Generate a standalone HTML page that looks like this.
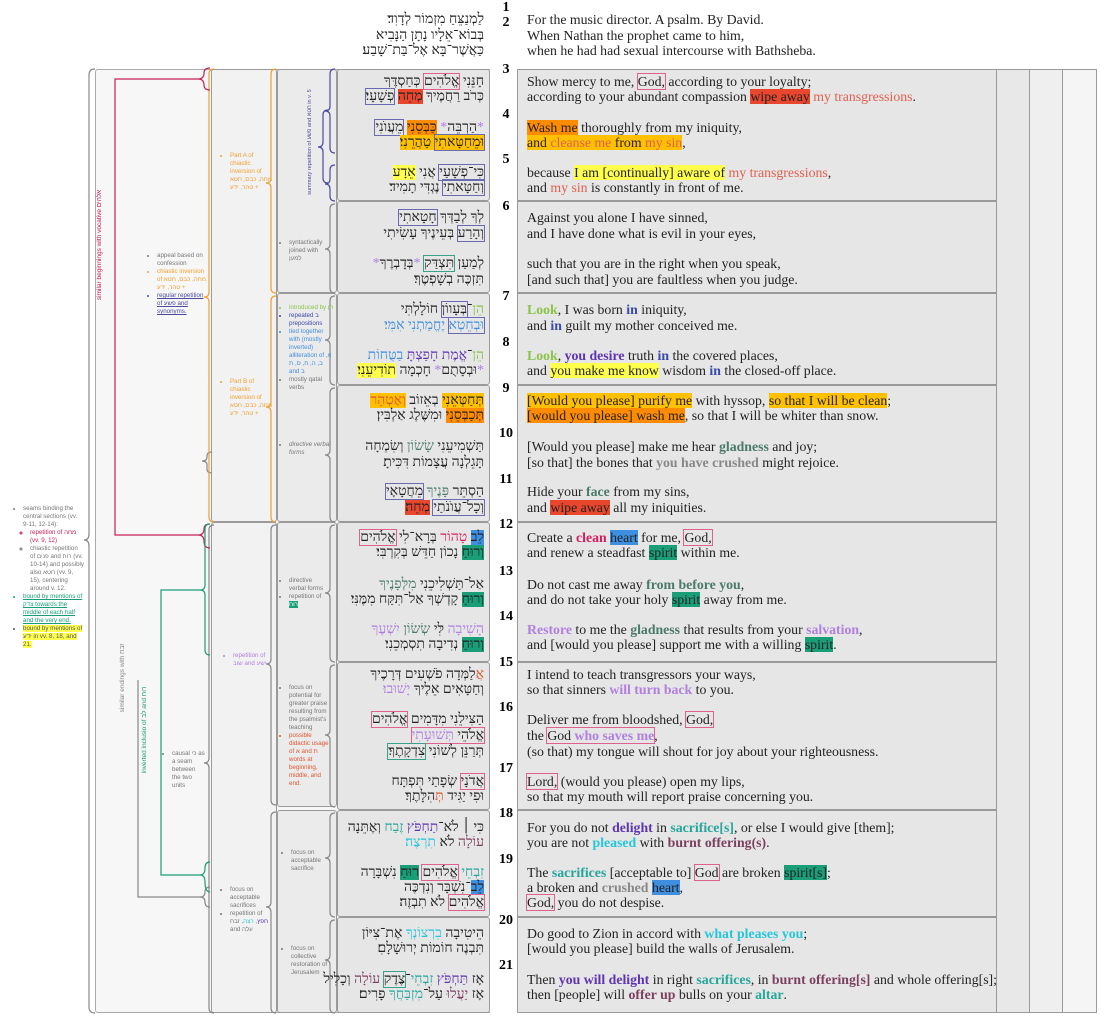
<!DOCTYPE html>
<html><head><meta charset="utf-8">
<style>
body{margin:0;width:1110px;height:1027px;background:#fff;position:relative;overflow:hidden;font-family:"Liberation Serif",serif;}
.b{position:absolute;box-sizing:border-box;border:1px solid #9a9a9a;border-radius:3px;}
.e{position:absolute;left:527px;font-size:13.8px;line-height:16px;white-space:nowrap;color:#222;}
.h{position:absolute;right:626px;font-size:14px;line-height:16px;white-space:nowrap;direction:rtl;color:#222;font-family:"Liberation Serif","DejaVu Serif",serif;}
.n{position:absolute;left:500px;font-weight:bold;font-size:14px;line-height:16px;width:12px;text-align:center;}
.s{position:absolute;font-family:"Liberation Sans","DejaVu Sans",sans-serif;font-size:6.2px;line-height:8px;color:#777;}
.s li{margin:0;padding:0}
.s ul{margin:0;padding-left:7px}
.R{background:#e8472e}.O{background:#ff8c00}.G{background:#ffc000}.Y{background:#ffff4d}.BL{background:#3f8fe0}.T{background:#1a9e78}
.rt{color:#e06050}.gr{color:#8bc34a;font-weight:bold}.bi{color:#3949ab;font-weight:bold}.pu{color:#5e35b1;font-weight:bold}
.gl{color:#4a7a6a;font-weight:bold}.pk{color:#d81b60;font-weight:bold}.lv{color:#b07fe0;font-weight:bold}.tl{color:#26a69a;font-weight:bold}
.cy{color:#26c6da;font-weight:bold}.bo{color:#7b3f5f;font-weight:bold}.gy{color:#888;font-weight:bold}
.bx{outline:1px solid #e06090;outline-offset:0}.bb{outline:1px solid #6a6ab0}.bt{outline:1px solid #3aa08a}
</style></head><body>

<div class="b" style="left:95px;top:69px;width:1002px;height:944px;background:#f7f7f7;border-color:#aaa"></div>
<div style="position:absolute;left:490px;top:60px;width:27px;height:960px;background:#fff"></div>
<div class="b" style="left:211px;top:69px;width:66px;height:453px;background:#f2f2f2"></div>
<div class="b" style="left:211px;top:522px;width:66px;height:491px;background:#f2f2f2"></div>
<div class="b" style="left:277px;top:69px;width:60px;height:224px;background:#ebebeb"></div>
<div class="b" style="left:277px;top:293px;width:60px;height:229px;background:#ebebeb"></div>
<div class="b" style="left:277px;top:522px;width:60px;height:285px;background:#ebebeb"></div>
<div class="b" style="left:277px;top:810px;width:60px;height:203px;background:#ebebeb"></div>
<div class="b" style="left:996px;top:69px;width:34px;height:944px;background:#e8e8e8;border-radius:0"></div>
<div class="b" style="left:1029px;top:69px;width:34px;height:944px;background:#efefef;border-radius:0"></div>
<div class="b" style="left:1062px;top:69px;width:35px;height:944px;background:#f5f5f5;border-radius:0"></div>

<div class="b" style="left:337px;top:69px;width:153px;height:132px;background:#e6e6e6"></div>
<div class="b" style="left:337px;top:201px;width:153px;height:92px;background:#e6e6e6"></div>
<div class="b" style="left:337px;top:293px;width:153px;height:92px;background:#e6e6e6"></div>
<div class="b" style="left:337px;top:385px;width:153px;height:137px;background:#e6e6e6"></div>
<div class="b" style="left:337px;top:522px;width:153px;height:140px;background:#e6e6e6"></div>
<div class="b" style="left:337px;top:662px;width:153px;height:148px;background:#e6e6e6"></div>
<div class="b" style="left:337px;top:810px;width:153px;height:107px;background:#e6e6e6"></div>
<div class="b" style="left:337px;top:917px;width:153px;height:96px;background:#e6e6e6"></div>

<div class="b" style="left:517px;top:69px;width:480px;height:132px;background:#e6e6e6;border-radius:0"></div>
<div class="b" style="left:517px;top:201px;width:480px;height:92px;background:#e6e6e6;border-radius:0"></div>
<div class="b" style="left:517px;top:293px;width:480px;height:92px;background:#e6e6e6;border-radius:0"></div>
<div class="b" style="left:517px;top:385px;width:480px;height:137px;background:#e6e6e6;border-radius:0"></div>
<div class="b" style="left:517px;top:522px;width:480px;height:140px;background:#e6e6e6;border-radius:0"></div>
<div class="b" style="left:517px;top:662px;width:480px;height:148px;background:#e6e6e6;border-radius:0"></div>
<div class="b" style="left:517px;top:810px;width:480px;height:107px;background:#e6e6e6;border-radius:0"></div>
<div class="b" style="left:517px;top:917px;width:480px;height:96px;background:#e6e6e6;border-radius:0"></div>

<svg width="1110" height="1027" style="position:absolute;left:0;top:0" fill="none" stroke-width="1.2">
<path stroke="#888" d="M95 69 Q89 69 89 75 L89 534 Q89 540 84 540 Q89 540 89 546 L89 1007 Q89 1013 95 1013"/>
<g stroke="#4a4aa0">
<path d="M335 69 Q330 69 330 74 L330 106 Q330 111 325 111 Q330 111 330 116 L330 148 Q330 153 335 153"/>
<path d="M335 165 Q330 165 330 170 L330 179 Q330 184 325 184 Q330 184 330 189 L330 196 Q330 201 335 201"/>
<path d="M328 110 Q323 110 323 115 L323 142 Q323 147 318 147 Q323 147 323 152 L323 178 Q323 183 328 183"/>
</g>
<g stroke="#888">
<path d="M335 204 Q330 204 330 209 L330 244 Q330 249 325 249 Q330 249 330 254 L330 288 Q330 293 335 293"/>
<path d="M335 296 Q330 296 330 301 L330 335 Q330 340 325 340 Q330 340 330 345 L330 380 Q330 385 335 385"/>
<path d="M335 388 Q330 388 330 393 L330 450 Q330 455 325 455 Q330 455 330 460 L330 517 Q330 522 335 522"/>
<path d="M335 525 Q330 525 330 530 L330 588 Q330 593 325 593 Q330 593 330 598 L330 657 Q330 662 335 662"/>
<path d="M335 665 Q330 665 330 670 L330 730 Q330 735 325 735 Q330 735 330 740 L330 802 Q330 807 335 807"/>
<path d="M335 813 Q330 813 330 818 L330 853 Q330 858 325 858 Q330 858 330 863 L330 912 Q330 917 335 917"/>
<path d="M335 920 Q330 920 330 925 L330 955 Q330 960 325 960 Q330 960 330 965 L330 1008 Q330 1013 335 1013"/>
<path d="M276 525 Q271 525 271 530 L271 659 Q271 664 266 664 Q271 664 271 669 L271 800 Q271 805 276 805"/>
<path d="M276 812 Q271 812 271 817 L271 902 Q271 907 266 907 Q271 907 271 912 L271 1008 Q271 1013 276 1013"/>
<path d="M214 525 Q209 525 209 530 L209 758 Q209 763 204 763 Q209 763 209 768 L209 1008 Q209 1013 214 1013"/>
<path d="M212 452 Q207 452 207 456 L207 457 Q207 461 202 461 Q207 461 207 465 L207 469 Q207 473 212 473"/>
<path d="M138 680 L138 897 L200 897"/>
<path d="M210 887 Q205 887 205 892 Q205 897 200 897 Q205 897 205 902 Q205 907 210 907"/>
</g>
<g stroke="#f0a030">
<path d="M276 69 Q271 69 271 74 L271 178 Q271 183 266 183 Q271 183 271 188 L271 288 Q271 293 276 293"/>
<path d="M276 296 Q271 296 271 301 L271 402 Q271 407 266 407 Q271 407 271 412 L271 517 Q271 522 276 522"/>
<path d="M214 69 Q209 69 209 74 L209 292 Q209 297 204 297 Q209 297 209 302 L209 517 Q209 522 214 522"/>
</g>
<g stroke="#c8205a">
<path d="M210 68 Q204 68 204 73 Q204 79 198 79 Q204 79 204 85 Q204 90 210 90"/>
<path d="M198 79 L115 79 L115 535 L198 535"/>
<path d="M210 524 Q204 524 204 529 Q204 535 198 535 Q204 535 204 541 Q204 548 210 548"/>
</g>
<g stroke="#1a9e78">
<path d="M210 524 Q205 524 205 529 L205 585 Q205 590 200 590 Q205 590 205 595 L205 650 Q205 655 210 655"/>
<path d="M200 590 L161 590 L161 875 L200 875"/>
<path d="M210 862 Q205 862 205 868 Q205 875 200 875 Q205 875 205 882 Q205 892 210 892"/>
</g>
<text transform="translate(101,245) rotate(-90)" text-anchor="middle" font-family="Liberation Sans,DejaVu Sans,sans-serif" font-size="6.5" fill="#c8205a" stroke="none">similar beginnings with vocative אלהים</text>
<text transform="translate(124,678) rotate(-90)" text-anchor="middle" font-family="Liberation Sans,DejaVu Sans,sans-serif" font-size="6.5" fill="#888" stroke="none">similar endings with זבח</text>
<text transform="translate(146,730) rotate(-90)" text-anchor="middle" font-family="Liberation Sans,DejaVu Sans,sans-serif" font-size="6.5" fill="#1a9e78" stroke="none">inverted inclusio of לב and רוח</text>
<text transform="translate(311,142) rotate(-90)" text-anchor="middle" font-family="Liberation Sans,DejaVu Sans,sans-serif" font-size="5.6" fill="#4a4aa0" stroke="none">summary repetition of פשע and חטא in v. 5</text>
</svg>

<div class="s" style="left:150px;top:252px;width:58px"><ul><li>appeal based on confession</li><li style="color:#f0a030">chiastic inversion of מחה, כבס, חטא + טהר, ידע</li><li style="color:#4a4aa0;text-decoration:underline">regular repetition of פשע and synonyms.</li></ul></div>
<div class="s" style="left:223px;top:152px;width:50px;color:#f0a030"><ul><li>Part A of chiastic inversion of מחה, כבס, חטא + טהר, ידע</li></ul></div>
<div class="s" style="left:223px;top:378px;width:50px;color:#f0a030"><ul><li>Part B of chiastic inversion of מחה, כבס, חטא + טהר, ידע</li></ul></div>
<div class="s" style="left:282px;top:239px;width:48px"><ul><li>syntactically joined with למען</li></ul></div>
<div class="s" style="left:282px;top:304px;width:52px"><ul><li style="color:#8bc34a">introduced by הן</li><li style="color:#3949ab">repeated ב prepositions</li><li style="color:#3f8fe0">tied together with (mostly inverted) alliteration of א, ב, ה, ח, ס, ת and ב</li><li>mostly qatal verbs</li></ul></div>
<div class="s" style="left:282px;top:441px;width:52px"><ul><li style="font-style:italic">directive verbal forms</li></ul></div>
<div class="s" style="left:282px;top:577px;width:46px"><ul><li>directive verbal forms</li><li>repetition of <span class="T" style="color:#fff">רוח</span></li></ul></div>
<div class="s" style="left:282px;top:684px;width:50px"><ul><li>focus on potential for greater praise resulting from the psalmist's teaching</li><li style="color:#e0552e">possible didactic usage of א and ת words at beginning, middle, and end.</li></ul></div>
<div class="s" style="left:284px;top:849px;width:46px"><ul><li>focus on acceptable sacrifice</li></ul></div>
<div class="s" style="left:284px;top:945px;width:46px"><ul><li>focus on collective restoration of Jerusalem</li></ul></div>
<div class="s" style="left:226px;top:652px;width:42px;color:#b07fe0"><ul><li>repetition of שוב and ישע</li></ul></div>
<div class="s" style="left:223px;top:886px;width:50px"><ul><li>focus on acceptable sacrifices</li><li>repetition of <span style="color:#5e35b1">חפץ</span>, <span style="color:#26c6da">רצה</span>, זבח and עלה</li></ul></div>
<div class="s" style="left:165px;top:750px;width:40px"><ul><li>causal כי as a seam between the two units</li></ul></div>
<div class="s" style="left:16px;top:505px;width:68px"><ul><li>seams binding the central sections (vv. 9-11, 12-14):<ul><li style="color:#c8205a">repetition of מחה (vv. 9, 12)</li><li>chiastic repetition of פנים and רוח (vv. 10-14) and possibly also חטא (vv. 9, 15), centering around v. 12.</li></ul></li><li style="color:#1a9e78;text-decoration:underline">bound by mentions of צדק towards the middle of each half and the very end.</li><li style="color:#555"><span class="Y">bound by mentions of ידע in vv. 8, 18, and 21.</span></li></ul></div>

<div class="n" style="top:0">1</div>
<div class="n" style="top:15px">2</div>
<div class="h" style="top:12px">לַמְנַצֵּחַ מִזְמוֹר לְדָוִד׃</div>
<div class="h" style="top:28px">בְּבוֹא־אֵלָיו נָתָן הַנָּבִיא</div>
<div class="h" style="top:43px">כַּאֲשֶׁר־בָּא אֶל־בַּת־שָׁבַע׃</div>
<div class="e" style="top:12px">For the music director. A psalm. By David.</div>
<div class="e" style="top:28px">When Nathan the prophet came to him,</div>
<div class="e" style="top:43px">when he had had sexual intercourse with Bathsheba.</div>

<div class="n" style="top:62px">3</div><div class="n" style="top:107px">4</div><div class="n" style="top:152px">5</div>
<div class="n" style="top:199px">6</div><div class="n" style="top:289px">7</div><div class="n" style="top:335px">8</div>
<div class="n" style="top:381px">9</div><div class="n" style="top:426px;left:497px;width:18px">10</div><div class="n" style="top:472px;left:497px;width:18px">11</div>
<div class="n" style="top:517px;left:497px;width:18px">12</div><div class="n" style="top:564px;left:497px;width:18px">13</div><div class="n" style="top:609px;left:497px;width:18px">14</div>
<div class="n" style="top:655px;left:497px;width:18px">15</div><div class="n" style="top:700px;left:497px;width:18px">16</div><div class="n" style="top:761px;left:497px;width:18px">17</div>
<div class="n" style="top:806px;left:497px;width:18px">18</div><div class="n" style="top:852px;left:497px;width:18px">19</div><div class="n" style="top:913px;left:497px;width:18px">20</div>
<div class="n" style="top:958px;left:497px;width:18px">21</div>

<div class="h" style="top:74px">חָנֵּנִי <span class="bx">אֱלֹהִים</span> כְּחַסְדֶּךָ</div>
<div class="h" style="top:89px">כְּרֹב רַחֲמֶיךָ <span class="R">מְחֵה</span> <span class="bb">פְשָׁעָי׃</span></div>
<div class="h" style="top:120px"><span style="color:#b07fe0">*</span>הַרְבֵּה<span style="color:#b07fe0">*</span> <span class="O">כַּבְּסֵנִי</span> <span class="bb">מֵעֲוֺנִי</span></div>
<div class="h" style="top:135px"><span class="G"><span class="bb">וּמֵחַטָּאתִי</span> טַהֲרֵנִי׃</span></div>
<div class="h" style="top:165px"><span class="bb">כִּי־פְשָׁעַי</span> אֲנִי <span class="Y">אֵדָע</span></div>
<div class="h" style="top:180px"><span class="bb">וְחַטָּאתִי</span> נֶגְדִּי תָמִיד׃</div>
<div class="h" style="top:210px">לְךָ לְבַדְּךָ <span class="bb">חָטָאתִי</span></div>
<div class="h" style="top:226px"><span class="bb">וְהָרַע</span> בְּעֵינֶיךָ עָשִׂיתִי</div>
<div class="h" style="top:256px">לְמַעַן <span class="bt">תִּצְדַּק</span> <span style="color:#b07fe0">*</span>בְּדָבְרֶךָ<span style="color:#b07fe0">*</span></div>
<div class="h" style="top:272px">תִּזְכֶּה בְשָׁפְטֶךָ׃</div>
<div class="h" style="top:302px"><span style="color:#8bc34a">הֵן</span>־<span class="bb">בְּעָווֹן</span> חוֹלָלְתִּי</div>
<div class="h" style="top:318px;color:#3f8fe0"><span class="bb">וּבְחֵטְא</span> יֶחֱמַתְנִי אִמִּי׃</div>
<div class="h" style="top:348px"><span style="color:#8bc34a">הֵן</span>־<span style="color:#5e35b1">אֱמֶת חָפַצְתָּ</span> <span style="color:#3f8fe0">בַטֻּחוֹת</span></div>
<div class="h" style="top:363px"><span style="color:#b07fe0">*</span>וּבְסָתֻם<span style="color:#b07fe0">*</span> חָכְמָה <span class="Y">תוֹדִיעֵנִי׃</span></div>
<div class="h" style="top:393px"><span class="G">תְּחַטְּאֵנִי</span> בְאֵזוֹב <span class="G" style="color:#e0552e">וְאֶטְהָר</span></div>
<div class="h" style="top:408px"><span class="O">תְּכַבְּסֵנִי</span> וּמִשֶּׁלֶג אַלְבִּין׃</div>
<div class="h" style="top:439px">תַּשְׁמִיעֵנִי <span style="color:#4a7a6a">שָׂשׂוֹן</span> וְשִׂמְחָה</div>
<div class="h" style="top:455px">תָּגֵלְנָה עֲצָמוֹת דִּכִּיתָ׃</div>
<div class="h" style="top:484px">הַסְתֵּר <span style="color:#4a7a6a">פָּנֶיךָ</span> <span class="bb">מֵחֲטָאָי</span></div>
<div class="h" style="top:500px"><span class="bb">וְכָל־עֲוֺנֹתַי</span> <span class="R">מְחֵה׃</span></div>
<div class="h" style="top:530px"><span class="BL">לֵב</span> <span style="color:#d81b60">טָהוֹר</span> בְּרָא־לִי <span class="bx">אֱלֹהִים</span></div>
<div class="h" style="top:545px"><span class="T">וְרוּחַ</span> נָכוֹן חַדֵּשׁ בְּקִרְבִּי׃</div>
<div class="h" style="top:577px">אַל־תַּשְׁלִיכֵנִי <span style="color:#4a7a6a">מִלְּפָנֶיךָ</span></div>
<div class="h" style="top:592px"><span class="T">וְרוּחַ</span> קָדְשְׁךָ אַל־תִּקַּח מִמֶּנִּי׃</div>
<div class="h" style="top:622px"><span style="color:#b07fe0">הָשִׁיבָה</span> לִּי <span style="color:#4a7a6a">שְׂשׂוֹן</span> <span style="color:#b07fe0">יִשְׁעֶךָ</span></div>
<div class="h" style="top:637px"><span class="T">וְרוּחַ</span> נְדִיבָה תִסְמְכֵנִי׃</div>
<div class="h" style="top:667px"><span style="color:#e0552e">אֲ</span>לַמְּדָה פֹשְׁעִים דְּרָכֶיךָ</div>
<div class="h" style="top:682px">וְחַטָּאִים אֵלֶיךָ <span style="color:#b07fe0">יָשׁוּבוּ׃</span></div>
<div class="h" style="top:712px">הַצִּילֵנִי מִדָּמִים <span class="bx">אֱלֹהִים</span></div>
<div class="h" style="top:728px"><span class="bx">אֱלֹהֵי <span style="color:#b07fe0">תְּשׁוּעָתִי</span></span></div>
<div class="h" style="top:744px">תְּרַנֵּן לְשׁוֹנִי <span class="bt">צִדְקָתֶךָ׃</span></div>
<div class="h" style="top:774px"><span class="bx">אֲדֹנָי</span> שְׂפָתַי תִּפְתָּח</div>
<div class="h" style="top:789px">וּפִי יַגִּיד <span style="color:#e0552e">תְּ</span>הִלָּתֶךָ׃</div>
<div class="h" style="top:820px">כִּי ׀ לֹא־<span style="color:#5e35b1">תַחְפֹּץ</span> <span style="color:#26a69a">זֶבַח</span> וְאֶתֵּנָה</div>
<div class="h" style="top:835px"><span style="color:#7b3f5f">עוֹלָה</span> לֹא <span style="color:#26c6da">תִרְצֶה׃</span></div>
<div class="h" style="top:865px"><span style="color:#26a69a">זִבְחֵי</span> <span class="bx">אֱלֹהִים</span> <span class="T">רוּחַ</span> נִשְׁבָּרָה</div>
<div class="h" style="top:880px"><span class="BL">לֵב</span>־נִשְׁבָּר וְנִדְכֶּה</div>
<div class="h" style="top:895px"><span class="bx">אֱלֹהִים</span> לֹא תִבְזֶה׃</div>
<div class="h" style="top:926px">הֵיטִיבָה <span style="color:#26c6da">בִרְצוֹנְךָ</span> אֶת־צִיּוֹן</div>
<div class="h" style="top:941px">תִּבְנֶה חוֹמוֹת יְרוּשָׁלָםִ׃</div>
<div class="h" style="top:972px">אָז <span style="color:#5e35b1">תַּחְפֹּץ</span> <span style="color:#26a69a">זִבְחֵי</span>־<span class="bt">צֶדֶק</span> <span style="color:#7b3f5f">עוֹלָה</span> וְכָלִיל</div>
<div class="h" style="top:987px">אָז <span style="color:#7b3f5f">יַעֲלוּ</span> עַל־<span style="color:#26a69a">מִזְבַּחֲךָ</span> פָרִים׃</div>

<div class="e" style="top:74px">Show mercy to me, <span class="bx">God,</span> according to your loyalty;</div>
<div class="e" style="top:89px">according to your abundant compassion <span class="R">wipe away</span> <span class="rt">my transgressions</span>.</div>
<div class="e" style="top:120px"><span class="O">Wash me</span> thoroughly from my iniquity,</div>
<div class="e" style="top:135px"><span class="G">and <span class="rt">cleanse me</span> from <span class="rt">my sin</span></span>,</div>
<div class="e" style="top:165px">because <span class="Y">I am [continually] aware of</span> <span class="rt">my transgressions</span>,</div>
<div class="e" style="top:180px">and <span class="rt">my sin</span> is constantly in front of me.</div>
<div class="e" style="top:210px">Against you alone I have sinned,</div>
<div class="e" style="top:226px">and I have done what is evil in your eyes,</div>
<div class="e" style="top:256px">such that you are in the right when you speak,</div>
<div class="e" style="top:272px">[and such that] you are faultless when you judge.</div>
<div class="e" style="top:302px"><span class="gr">Look</span>, I was born <span class="bi">in</span> iniquity,</div>
<div class="e" style="top:318px">and <span class="bi">in</span> guilt my mother conceived me.</div>
<div class="e" style="top:348px"><span class="gr">Look</span>, <span class="pu">you desire</span> truth <span class="bi">in</span> the covered places,</div>
<div class="e" style="top:363px">and <span class="Y">you make me know</span> wisdom <span class="bi">in</span> the closed-off place.</div>
<div class="e" style="top:393px"><span class="G">[Would you please] purify me</span> with hyssop, <span class="G">so that I will be clean</span>;</div>
<div class="e" style="top:408px"><span class="O">[would you please] wash me</span>, so that I will be whiter than snow.</div>
<div class="e" style="top:439px">[Would you please] make me hear <span class="gl">gladness</span> and joy;</div>
<div class="e" style="top:455px">[so that] the bones that <span class="gy">you have crushed</span> might rejoice.</div>
<div class="e" style="top:484px">Hide your <span class="gl">face</span> from my sins,</div>
<div class="e" style="top:500px">and <span class="R">wipe away</span> all my iniquities.</div>
<div class="e" style="top:530px">Create a <span class="pk">clean</span> <span class="BL">heart</span> for me, <span class="bx">God,</span></div>
<div class="e" style="top:545px">and renew a steadfast <span class="T">spirit</span> within me.</div>
<div class="e" style="top:577px">Do not cast me away <span class="gl">from before you</span>,</div>
<div class="e" style="top:592px">and do not take your holy <span class="T">spirit</span> away from me.</div>
<div class="e" style="top:622px"><span class="lv">Restore</span> to me the <span class="gl">gladness</span> that results from your <span class="lv">salvation</span>,</div>
<div class="e" style="top:637px">and [would you please] support me with a willing <span class="T">spirit</span>.</div>
<div class="e" style="top:667px">I intend to teach transgressors your ways,</div>
<div class="e" style="top:682px">so that sinners <span class="lv">will turn back</span> to you.</div>
<div class="e" style="top:712px">Deliver me from bloodshed, <span class="bx">God,</span></div>
<div class="e" style="top:728px">the <span class="bx">God <span class="lv">who saves me</span></span>,</div>
<div class="e" style="top:744px">(so that) my tongue will shout for joy about your righteousness.</div>
<div class="e" style="top:774px"><span class="bx">Lord,</span> (would you please) open my lips,</div>
<div class="e" style="top:789px">so that my mouth will report praise concerning you.</div>
<div class="e" style="top:820px">For you do not <span class="pu">delight</span> in <span class="tl">sacrifice[s]</span>, or else I would give [them];</div>
<div class="e" style="top:835px">you are not <span class="cy">pleased</span> with <span class="bo">burnt offering(s)</span>.</div>
<div class="e" style="top:865px">The <span class="tl">sacrifices</span> [acceptable to] <span class="bx">God</span> are broken <span class="T">spirit[s]</span>;</div>
<div class="e" style="top:880px">a broken and <span class="gy">crushed</span> <span class="BL">heart</span>,</div>
<div class="e" style="top:895px"><span class="bx">God,</span> you do not despise.</div>
<div class="e" style="top:926px">Do good to Zion in accord with <span class="cy">what pleases you</span>;</div>
<div class="e" style="top:941px">[would you please] build the walls of Jerusalem.</div>
<div class="e" style="top:972px">Then <span class="pu">you will delight</span> in right <span class="tl">sacrifices</span>, in <span class="bo">burnt offering[s]</span> and whole offering[s];</div>
<div class="e" style="top:987px">then [people] will <span class="bo">offer up</span> bulls on your <span class="tl">altar</span>.</div>
</body></html>
